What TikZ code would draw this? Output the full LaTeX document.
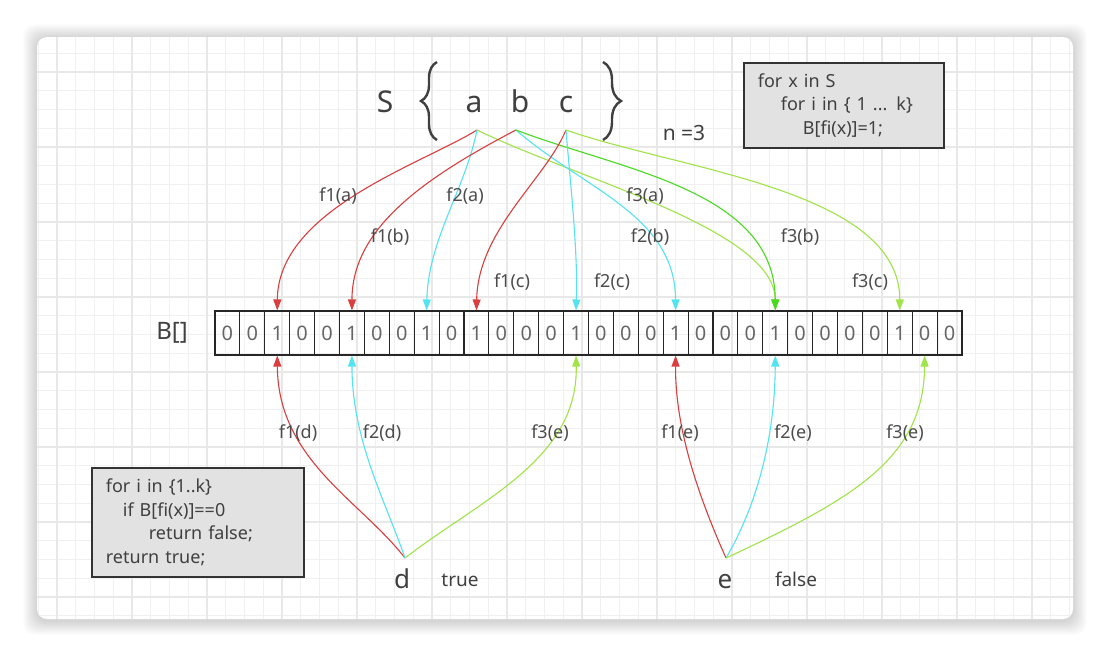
\documentclass[tikz,border=0pt]{standalone}
\usepackage{fontspec}
\setmainfont{Noto Sans}
\usetikzlibrary{arrows.meta,decorations.pathreplacing}

\definecolor{hashred}{RGB}{218,62,62}
\definecolor{hashcyan}{RGB}{84,228,240}
\definecolor{hashlime}{RGB}{160,228,72}
\definecolor{hashgreen}{RGB}{72,218,32}
\definecolor{txt}{RGB}{64,64,64}
\definecolor{boxfill}{RGB}{226,226,226}

\begin{document}
\begin{tikzpicture}
  [x=1pt,y=-1pt,
   every node/.style={text=txt,inner sep=0pt},
   minorgrid/.style={draw=black!6,line width=0.7pt},
   majorgrid/.style={draw=black!9,line width=1.1pt},
   cellbox/.style={draw=black!85,line width=1.1pt,minimum width=24.9pt,minimum height=44pt,
     font=\fontsize{20}{20}\selectfont,text=black!60},
   codebox/.style={draw=black!80,line width=1.8pt,fill=boxfill,anchor=north west,
     align=left,inner xsep=14pt,font=\fontsize{18}{23.5}\selectfont},
   big/.style={font=\fontsize{30}{30}\selectfont,anchor=base},
   lab/.style={font=\fontsize{18}{18}\selectfont,text=black!70},
   curly/.style={draw=black!75,line width=2.4pt,decorate},
   tip/.style={-{Triangle[length=11pt,width=8pt]},line width=1.1pt},
   redarrow/.style={tip,hashred},
   cyanarrow/.style={tip,hashcyan},
   limearrow/.style={tip,hashlime},
   greenarrow/.style={tip,hashgreen}]

  \useasboundingbox (0,0) rectangle (1110,656);
  \fill[white] (0,0) rectangle (1110,656);

  % card with shadow and grid
  \foreach \r in {1,...,14}
    \fill[black,opacity=0.013,rounded corners=12pt] ({37-\r},{38-\r}) rectangle ({1073+\r},{621+\r});
  \fill[white,rounded corners=10pt] (37,37) rectangle (1073,619);
  \begin{scope}
    \clip[rounded corners=10pt] (37,37) rectangle (1073,619);
    \foreach \k in {0,...,55}
      \draw[minorgrid] ({38.25+18.75*\k},37) -- ({38.25+18.75*\k},619);
    \foreach \k in {0,...,31}
      \draw[minorgrid] (37,{34.5+18.75*\k}) -- (1073,{34.5+18.75*\k});
    \foreach \k in {0,...,13}
      \draw[majorgrid] ({57+75*\k},37) -- ({57+75*\k},619);
    \foreach \k in {1,...,8}
      \draw[majorgrid] (37,{-3+75*\k}) -- (1073,{-3+75*\k});
  \end{scope}

  % the set S
  \node[big] (setS) at (385,112) {S};
  \node[big] (a) at (474,112) {a};
  \node[big] (b) at (520,112) {b};
  \node[big] (c) at (566,112) {c};
  \draw[curly,decoration={brace,amplitude=16pt}] (437,140) -- (437,62);
  \draw[curly,decoration={brace,amplitude=18pt}] (603,62) -- (603,140);
  \node[anchor=base,font=\fontsize{21}{21}\selectfont] (n) at (684,140) {n =3};

  \coordinate (xa) at (477,130);
  \coordinate (xb) at (516,130);
  \coordinate (xc) at (566,130);
  \coordinate (xd) at (405,558);
  \coordinate (xe) at (726,558);

  % bit array
  \node[font=\fontsize{24}{24}\selectfont] (B) at (172,333) {B[]};
  \foreach \v [count=\i from 0] in {0,0,1,0,0,1,0,0,1,0,1,0,0,0,1,0,0,0,1,0,0,0,1,0,0,0,0,1,0,0}
    \node[cellbox] (cell\i) at ({227.45+24.9*\i},333) {\v};

  % inserting a, b, c
  \draw[redarrow] (xa) .. controls (420,165) and (278,210) .. (cell2.north);
  \draw[cyanarrow] (xa) .. controls (465,190) and (428,240) .. (cell8.north);
  \draw[limearrow] (xa) .. controls (580,180) and (775,230) .. (cell22.north);
  \draw[redarrow] (xb) .. controls (420,180) and (352,230) .. (cell5.north);
  \draw[cyanarrow] (xb) .. controls (585,190) and (675,215) .. (cell18.north);
  \draw[greenarrow] (xb) .. controls (620,170) and (775,190) .. (cell22.north);
  \draw[redarrow] (xc) .. controls (545,180) and (478,230) .. (cell10.north);
  \draw[cyanarrow] (xc) .. controls (570,180) and (578,250) .. (cell14.north);
  \draw[limearrow] (xc) .. controls (680,170) and (900,190) .. (cell27.north);

  % looking up d and e
  \draw[redarrow] (xd) .. controls (360,500) and (278,460) .. (cell2.south);
  \draw[cyanarrow] (xd) .. controls (385,500) and (352,440) .. (cell5.south);
  \draw[limearrow] (xd) .. controls (480,500) and (578,460) .. (cell14.south);
  \draw[redarrow] (xe) .. controls (700,500) and (675,430) .. (cell18.south);
  \draw[cyanarrow] (xe) .. controls (760,500) and (775,430) .. (cell22.south);
  \draw[limearrow] (xe) .. controls (850,500) and (924,460) .. (cell28.south);

  \foreach \name/\x/\y/\t in {la1/338/196/f1(a), la2/465/196/f2(a), la3/645/196/f3(a),
      lb1/390/237/f1(b), lb2/650/237/f2(b), lb3/800/237/f3(b),
      lc1/512/282/f1(c), lc2/612/282/f2(c), lc3/870/282/f3(c),
      ld1/298/433/f1(d), ld2/382/433/f2(d), ld3/550/433/f3(e),
      le1/680/433/f1(e), le2/793/433/f2(e), le3/905/433/f3(e)}
    \node[lab] (\name) at (\x,\y) {\t};

  \node[big,font=\fontsize{26}{26}\selectfont] (d) at (402,588) {d};
  \node[big,font=\fontsize{26}{26}\selectfont] (e) at (725,588) {e};
  \node[anchor=base,font=\fontsize{19}{19}\selectfont] (true) at (460,586) {true};
  \node[anchor=base,font=\fontsize{19}{19}\selectfont] (false) at (796,586) {false};

  % pseudo code
  \node[codebox,text width=172pt,minimum height=85pt] (insert) at (743,62)
    {for x in S\\\hspace*{23pt}for i in \{ 1 ... k\}\\\hspace*{45pt}B[fi(x)]=1;};
  \node[codebox,text width=184pt,minimum height=109pt] (query) at (91,467)
    {for i in \{1..k\}\\\hspace*{17pt}if B[fi(x)]==0\\\hspace*{43pt}return false;\\return true;};
\end{tikzpicture}
\end{document}
